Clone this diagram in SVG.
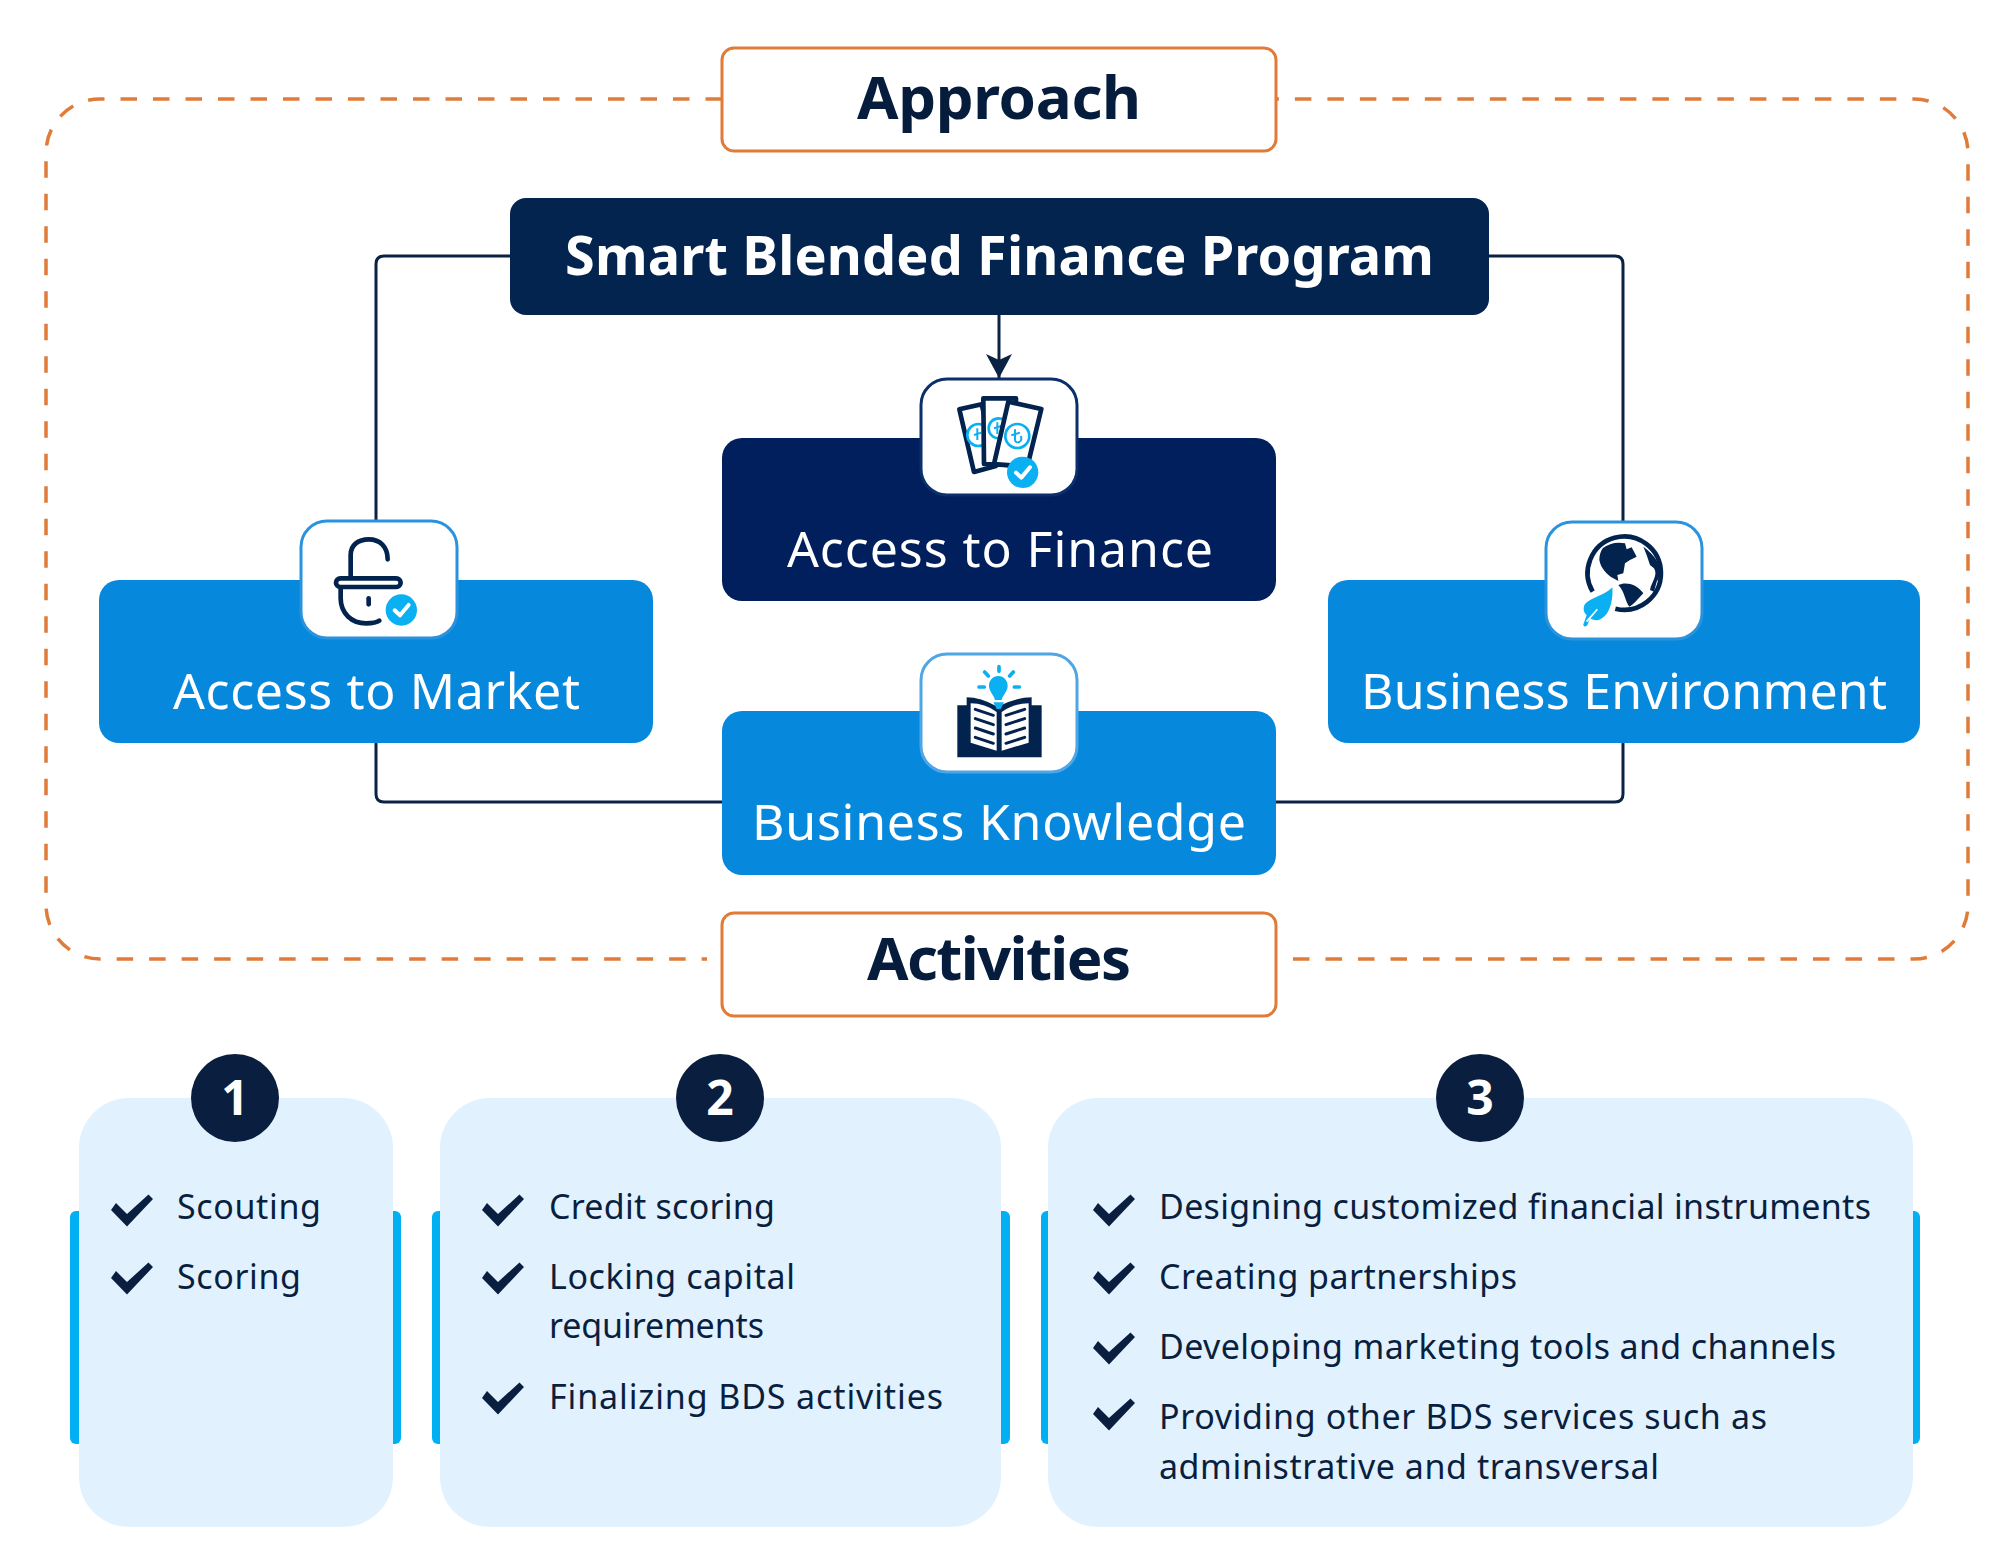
<svg xmlns="http://www.w3.org/2000/svg" width="1999" height="1564" viewBox="0 0 1999 1564">
<style>
text{font-family:"Noto Sans","Liberation Sans",sans-serif}
.head{font-size:60px;font-weight:700;fill:#061c3c;text-anchor:middle}
.prog{font-size:54px;font-weight:700;fill:#fff;text-anchor:middle}
.pillar{font-size:50px;fill:#fff;text-anchor:middle}
.num{font-size:48px;font-weight:700;fill:#fff;text-anchor:middle}
.item{font-size:34px;fill:#0a1f3f}
.tag{fill:#fff;stroke:#e07b39;stroke-width:3}
.blue{fill:#0688dc}.navy{fill:#001f5c}
.tile{fill:#fff;stroke-width:3}
.line{fill:none;stroke:#0a2345;stroke-width:3}
.ink{fill:none;stroke:#03234f;stroke-linecap:round;stroke-linejoin:round}
.note{fill:#fff;stroke:#03234f;stroke-width:14;stroke-linejoin:round}
.coin{fill:none;stroke:#0bb0f2;stroke-width:8}
.sign{fill:none;stroke:#0bb0f2;stroke-width:6}
.ok{fill:none;stroke:#fff;stroke-width:12;stroke-linecap:round;stroke-linejoin:round}
.cy{fill:#0bb0f2}.fill{fill:#03234f}
.card{fill:#e1f2fe}.bar{fill:#00b0f3}.badge{fill:#0a1f3f}
</style>
<defs>
<path id="tick" d="M-16-1 0 15.500 26-12 21.500-16.500 0 3-11-8Z" fill="#0a1f3f"/>
<marker id="arrow" markerUnits="userSpaceOnUse" markerWidth="26" markerHeight="28" refX="24" refY="13" orient="auto"><path d="M0 0 24 13 0 26 6 13Z" fill="#0a2345"/></marker>
</defs>

<path id="frame" d="M722 99H100A54 54 0 0 0 46 153V905A54 54 0 0 0 100 959H707M1293 959H1914A54 54 0 0 0 1968 905V153A54 54 0 0 0 1914 99H1276" fill="none" stroke="#e07b39" stroke-width="3.500" stroke-dasharray="16.500 16"/>

<g id="connectors">
<path class="line" d="M510 256H384Q376 256 376 264V522"/>
<path class="line" d="M1489 256H1615Q1623 256 1623 264V523"/>
<path class="line" d="M376 743V794Q376 802 384 802H722"/>
<path class="line" d="M1623 743V794Q1623 802 1615 802H1276"/>
<path class="line" d="M999 315V378" marker-end="url(#arrow)"/>
</g>

<g id="approach"><rect class="tag" x="722" y="48" width="554" height="103" rx="12"/><text class="head" x="999" y="119" textLength="284">Approach</text></g>
<g id="program"><rect x="510" y="198" width="979" height="117" rx="16" fill="#02244f"/><text class="prog" x="999.500" y="275" textLength="869">Smart Blended Finance Program</text></g>

<g id="finance">
<rect class="navy" x="722" y="438" width="554" height="163" rx="20"/>
<text class="pillar" x="1000" y="567" textLength="426">Access to Finance</text>
<rect class="tile" stroke="#0b2f6b" x="921" y="379" width="156" height="116" rx="26"/>
<g transform="translate(900 360) scale(.3333)">
<path class="note" d="M178 148 245 133 288 318 222 336Z"/>
<circle class="coin" cx="235" cy="225" r="33"/>
<path class="sign" d="M232 205V240M222 225 244 218"/>
<path class="note" d="M250 115H348L342 316 252 312Z"/>
<circle class="coin" cx="296" cy="205" r="30"/>
<path class="sign" d="M292 187V222M282 205 304 198"/>
<path class="note" d="M325 125 424 147 382 320 282 312Z"/>
<circle class="coin" cx="352" cy="228" r="36"/>
<path class="sign" d="M345 208V240Q347 250 358 246 368 240 362 228M334 226 360 218"/>
<circle cx="368" cy="337" r="47" class="cy"/>
<path class="ok" d="M348 338 364 353 390 322"/>
</g>
</g>

<g id="market">
<rect class="blue" x="99" y="580" width="554" height="163" rx="20"/>
<text class="pillar" x="376.500" y="709" textLength="407">Access to Market</text>
<rect class="tile" stroke="#2b93de" x="301" y="521" width="156" height="117" rx="26"/>
<g transform="translate(280 500) scale(.3333)">
<g class="ink" stroke-width="14">
<path d="M212 228V165C212 135 235 118 266 118 300 118 323 140 323 178"/>
<rect x="168" y="235" width="194" height="26" rx="13"/>
<path d="M182 268V295C182 340 215 370 258 370 275 370 290 368 298 362"/>
<path d="M266 295V313"/>
</g>
<circle cx="364" cy="330" r="47" class="cy"/>
<path class="ok" d="M344 331 360 346 386 315"/>
</g>
</g>

<g id="environment">
<rect class="blue" x="1328" y="580" width="592" height="163" rx="20"/>
<text class="pillar" x="1624" y="709" textLength="526">Business Environment</text>
<rect class="tile" stroke="#2b93de" x="1546" y="522" width="156" height="117" rx="26"/>
<g transform="translate(1530 510) scale(.3333)">
<path d="M188 245A110 110 0 1 1 256 296" fill="none" stroke="#03234f" stroke-width="14"/>
<path class="fill" d="M218 115C235 100 262 95 285 100L290 118 305 112 320 140 300 150 285 160 280 190 262 195 265 213 250 205C232 195 212 175 208 150 208 135 212 125 218 115Z"/>
<path class="fill" d="M340 110C375 135 395 170 395 190L380 215 372 245 360 240C365 215 385 195 372 175L360 165 350 135Z"/>
<path class="fill" d="M265 225C285 215 320 220 340 250 325 265 310 285 298 290 285 275 285 245 265 225Z"/>
<path class="cy" d="M247 232C250 270 240 320 205 330 195 332 185 328 180 325L172 346C165 354 156 346 162 338L170 315C158 305 160 290 165 282 185 262 225 255 247 232Z"/>
<path d="M170 335 202 298" fill="none" stroke="#fff" stroke-width="5"/>
</g>
</g>

<g id="knowledge">
<rect class="blue" x="722" y="711" width="554" height="164" rx="20"/>
<text class="pillar" x="999" y="840" textLength="494">Business Knowledge</text>
<rect class="tile" stroke="#4fa5e6" stroke-width="4" x="921" y="654" width="156" height="118" rx="26"/>
<g transform="translate(900 640) scale(.3333)">
<path class="fill" d="M172 196H200V172Q240 172 293 200 350 172 395 172V196H425V352H172Z"/>
<path d="M212 190Q255 190 290 216V332L212 308ZM386 190Q340 190 305 216V332L386 308Z" fill="#fff"/>
<path d="M226 208 280 226M226 236 280 254M226 264 280 282M226 292 280 310M374 208 318 226M374 236 318 254M374 264 318 282M374 292 318 310" stroke="#03234f" stroke-width="9" stroke-linecap="round" fill="none"/>
<path class="cy" d="M295 108C312 108 323 122 323 137 323 155 308 165 305 180H285C282 165 267 155 267 137 267 122 278 108 295 108Z"/>
<path class="cy" d="M280 187H312L302 207H290Z"/>
<path d="M297 80V94M254 96 265 108M340 96 329 108M237 141H253M343 141H358" stroke="#0bb0f2" stroke-width="11" stroke-linecap="round" fill="none"/>
</g>
</g>

<g id="activities"><rect class="tag" x="722" y="913" width="554" height="103" rx="12"/><text class="head" x="999" y="980" textLength="264">Activities</text></g>

<g id="card-1">
<rect class="bar" x="70" y="1211" width="20" height="233" rx="6"/><rect class="bar" x="380" y="1211" width="21" height="233" rx="6"/>
<rect class="card" x="79" y="1098" width="314" height="429" rx="50"/>
<circle class="badge" cx="235" cy="1098" r="44"/><text class="num" x="235" y="1115">1</text>
<use href="#tick" x="127" y="1211"/><use href="#tick" x="127" y="1279"/>
<text class="item" x="177" y="1219" textLength="144">Scouting</text>
<text class="item" x="177" y="1289" textLength="124">Scoring</text>
</g>
<g id="card-2">
<rect class="bar" x="432" y="1211" width="20" height="233" rx="6"/><rect class="bar" x="990" y="1211" width="20" height="233" rx="6"/>
<rect class="card" x="440" y="1098" width="561" height="429" rx="50"/>
<circle class="badge" cx="720" cy="1098" r="44"/><text class="num" x="720" y="1115">2</text>
<use href="#tick" x="498" y="1211"/><use href="#tick" x="498" y="1279"/><use href="#tick" x="498" y="1399"/>
<text class="item" x="549" y="1219" textLength="226">Credit scoring</text>
<text class="item" x="549" y="1289" textLength="246">Locking capital</text>
<text class="item" x="549" y="1338" textLength="215">requirements</text>
<text class="item" x="549" y="1409" textLength="394">Finalizing BDS activities</text>
</g>
<g id="card-3">
<rect class="bar" x="1041" y="1211" width="20" height="233" rx="6"/><rect class="bar" x="1900" y="1211" width="20" height="233" rx="6"/>
<rect class="card" x="1048" y="1098" width="865" height="429" rx="50"/>
<circle class="badge" cx="1480" cy="1098" r="44"/><text class="num" x="1480" y="1115">3</text>
<use href="#tick" x="1109" y="1211"/><use href="#tick" x="1109" y="1279"/><use href="#tick" x="1109" y="1349"/><use href="#tick" x="1109" y="1415"/>
<text class="item" x="1159" y="1219" textLength="712">Designing customized financial instruments</text>
<text class="item" x="1159" y="1289" textLength="358">Creating partnerships</text>
<text class="item" x="1159" y="1359" textLength="677">Developing marketing tools and channels</text>
<text class="item" x="1159" y="1429" textLength="608">Providing other BDS services such as</text>
<text class="item" x="1159" y="1479" textLength="500">administrative and transversal</text>
</g>
</svg>
